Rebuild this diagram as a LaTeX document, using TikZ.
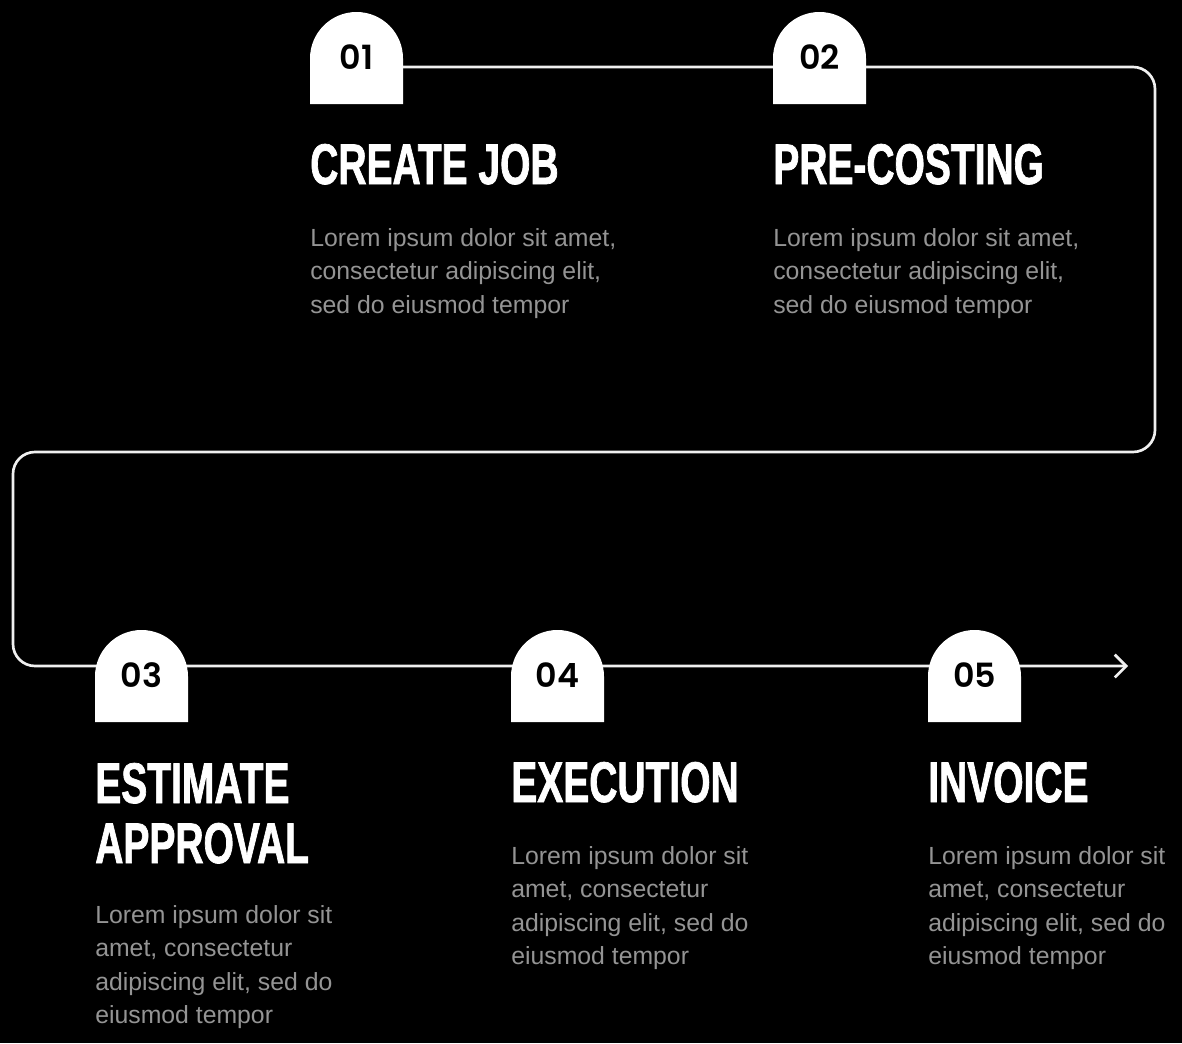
\documentclass[tikz,border=0pt]{standalone}
\usepackage{fontspec}
\usetikzlibrary{arrows.meta}
\newfontfamily\numfont[UprightFont={* SemiBold},BoldFont={* SemiBold}]{Poppins}
\newfontfamily\titlefont[FakeStretch=0.68,FakeBold=1.2]{Liberation Sans}
\newfontfamily\bodyfont{Liberation Sans}
\definecolor{bodygray}{RGB}{148,148,148}
\definecolor{linecol}{RGB}{240,240,240}
\tikzset{
  flow/.style={draw=linecol, line width=2pt, rounded corners=16.5pt, line cap=round,
    -{Straight Barb[length=8.5pt,width=17pt,line width=2pt]}},
  badgefill/.style={fill=white},
  num/.style={inner sep=0pt, font=\numfont\fontsize{25pt}{25pt}\selectfont, text=black},
  title/.style={inner sep=0pt, anchor=base west, align=left, text=white,
    font=\titlefont\bfseries\fontsize{43pt}{45pt}\selectfont},
  body/.style={inner sep=0pt, anchor=base west, align=left, text=bodygray,
    font=\bodyfont\fontsize{18.6pt}{25.1pt}\selectfont},
}
\begin{document}
\begin{tikzpicture}[x=0.75pt,y=-0.75pt]
\fill[black] (0,0) rectangle (1182,1043);
\useasboundingbox (0,0) rectangle (1182,1043);
% anchor coordinates on the line
\coordinate (c1) at (356.5,67);
\coordinate (r1) at (1155,67);
\coordinate (r2) at (1155,452);
\coordinate (l1) at (13,452);
\coordinate (l2) at (13,666);
\coordinate (tip) at (1128,666);
\draw[flow] (c1) -- (r1) -- (r2) -- (l1) -- (l2) -- (tip);
% badges
\foreach \cx/\ty in {356.5/12, 819.5/12, 141.5/630, 557.5/630, 974.5/630}{
  \fill[badgefill] (\cx-46.5,\ty+92) -- (\cx-46.5,\ty+46.5)
    arc[start angle=180,end angle=0,radius=34.875pt] -- (\cx+46.5,\ty+92) -- cycle;
}
\node[num] (b1) at (356.5,57.5) {01};
\node[num] (b2) at (819.5,57.5) {02};
\node[num] (b3) at (141.5,675.5) {03};
\node[num] (b4) at (557.5,675.5) {04};
\node[num] (b5) at (974.5,675.5) {05};
% titles (base anchor = baseline of the last line)
\node[title] (t1) at (310,184) {CREATE JOB};
\node[title] (t2) at (773,184) {PRE-COSTING};
\node[title] (t3) at (95,863) {ESTIMATE\\APPROVAL};
\node[title] (t4) at (511,802) {EXECUTION};
\node[title] (t5) at (928,802) {INVOICE};
% bodies
\node[body] (d1) at (310,313) {Lorem ipsum dolor sit amet,\\consectetur adipiscing elit,\\sed do eiusmod tempor};
\node[body] (d2) at (773,313) {Lorem ipsum dolor sit amet,\\consectetur adipiscing elit,\\sed do eiusmod tempor};
\node[body] (d3) at (95,1023.5) {Lorem ipsum dolor sit\\amet, consectetur\\adipiscing elit, sed do\\eiusmod tempor};
\node[body] (d4) at (511,964.5) {Lorem ipsum dolor sit\\amet, consectetur\\adipiscing elit, sed do\\eiusmod tempor};
\node[body] (d5) at (928,964.5) {Lorem ipsum dolor sit\\amet, consectetur\\adipiscing elit, sed do\\eiusmod tempor};
\end{tikzpicture}
\end{document}
